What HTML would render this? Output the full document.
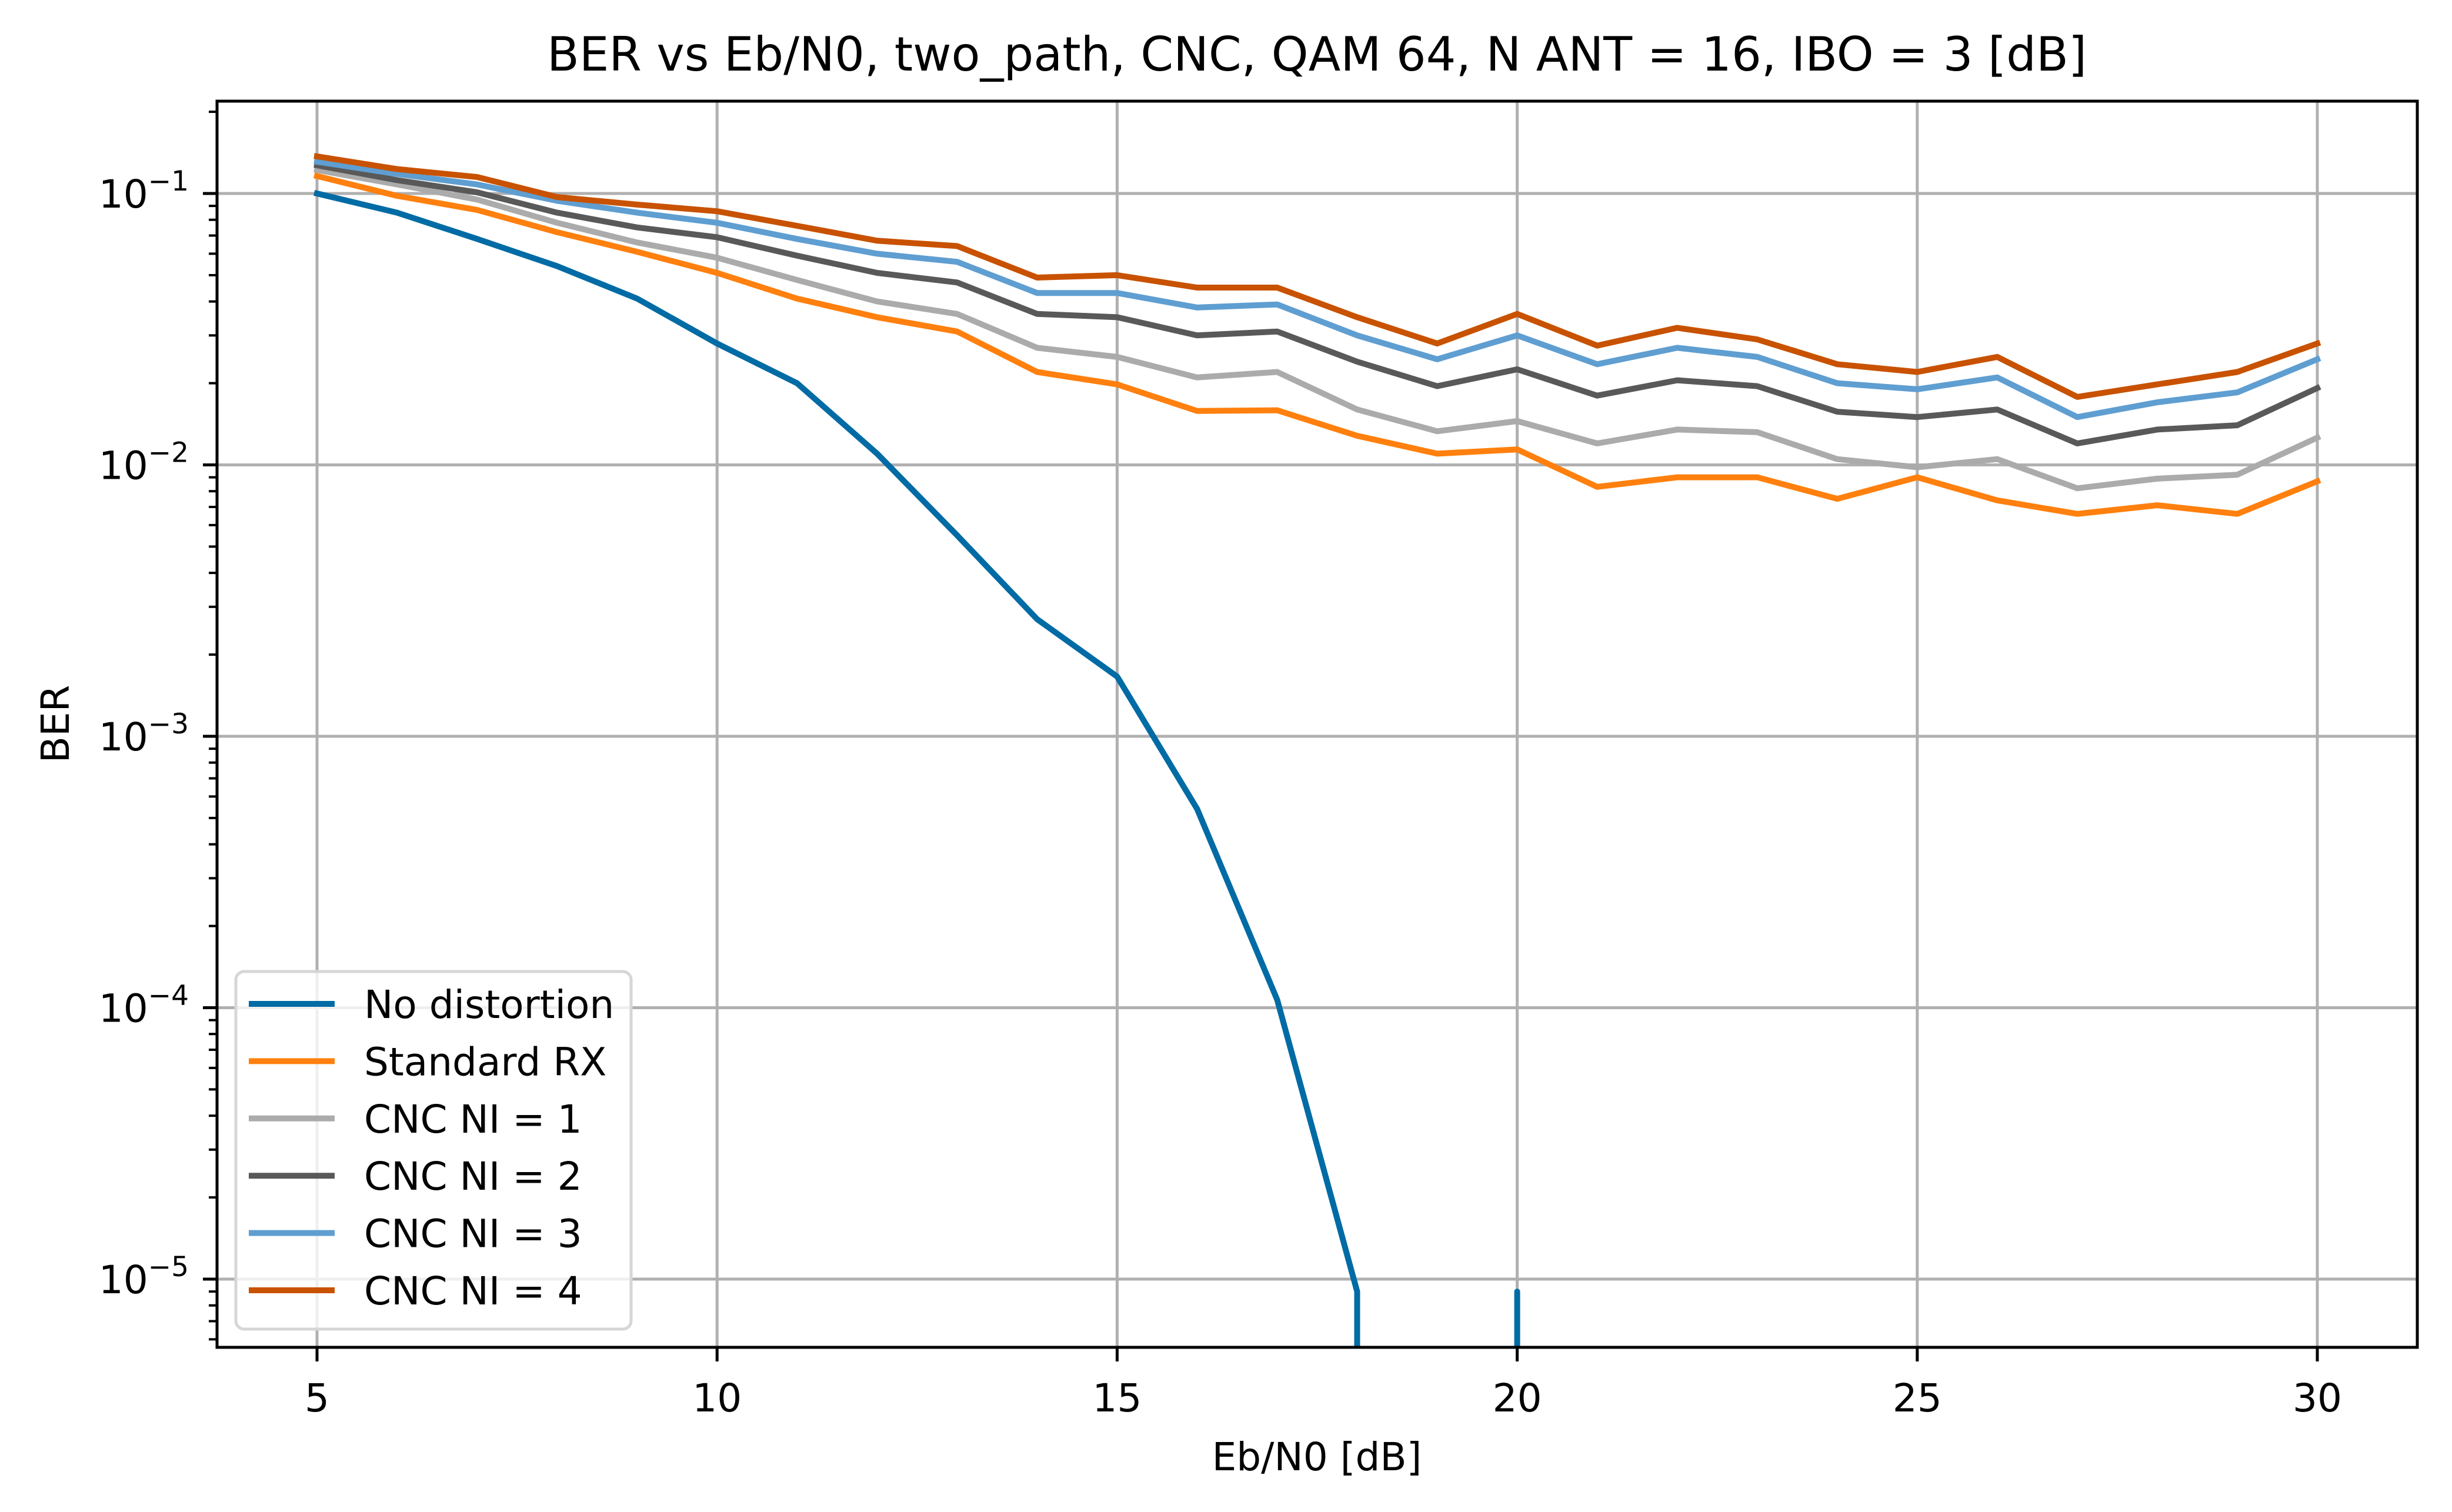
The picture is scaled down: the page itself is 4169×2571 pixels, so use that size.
<!DOCTYPE html>
<html><head><meta charset="utf-8"><style>
html,body{margin:0;padding:0;background:#fff;overflow:hidden;width:4169px;height:2571px;}
svg{display:block;overflow:hidden;font-family:"DejaVu Sans","Liberation Sans",sans-serif;}
</style></head><body>
<svg id="chart" width="4169" height="2571" viewBox="0 0 4169 2571" xmlns="http://www.w3.org/2000/svg">
<rect x="0" y="0" width="4169" height="2571" fill="#fff"/>
<defs><clipPath id="clip"><rect x="369" y="172" width="3741" height="2119"/></clipPath></defs>
<g id="grid"></g>
<g id="series" clip-path="url(#clip)"></g>
<rect x="369" y="172" width="3741" height="2119" fill="none" stroke="#000" stroke-width="5"/>
<g id="ticks"></g>
<text x="2239" y="120" font-size="80" text-anchor="middle">BER vs Eb/N0, two_path, CNC, QAM 64, N ANT = 16, IBO = 3 [dB]</text>
<text x="2239" y="2500" font-size="66" text-anchor="middle">Eb/N0 [dB]</text>
<text x="0" y="0" font-size="66" text-anchor="middle" transform="translate(117,1231) rotate(-90)">BER</text>
<g id="legend"></g>
</svg>
<script>
const xs = [5,6,7,8,9,10,11,12,13,14,15,16,17,18,19,20,21,22,23,24,25,26,27,28,29,30];
const noDist = [0.1,0.085,0.068,0.054,0.041,0.028,0.020,0.011,0.0055,0.0027,0.00166,0.00054,0.000107,0.000009,0,0.000009,0,0,0,0,0,0,0,0,0,0];
const stdRx = [0.116,0.098,0.087,0.072,0.061,0.051,0.041,0.035,0.031,0.022,0.0198,0.0158,0.0159,0.0128,0.011,0.0114,0.0083,0.009,0.009,0.0075,0.009,0.0074,0.0066,0.0071,0.0066,0.0087];
const cnc1 = [0.122,0.108,0.095,0.078,0.066,0.058,0.048,0.040,0.036,0.027,0.025,0.021,0.022,0.016,0.0133,0.0145,0.012,0.0135,0.0132,0.0105,0.0098,0.0105,0.0082,0.0089,0.0092,0.0126];
const cnc2 = [0.127,0.112,0.101,0.085,0.075,0.069,0.059,0.051,0.047,0.036,0.035,0.030,0.031,0.024,0.0195,0.0225,0.018,0.0205,0.0195,0.0157,0.015,0.016,0.012,0.0135,0.014,0.0192];
const cnc3 = [0.131,0.118,0.108,0.094,0.085,0.078,0.068,0.060,0.056,0.043,0.043,0.038,0.039,0.030,0.0245,0.030,0.0235,0.027,0.025,0.020,0.019,0.021,0.015,0.017,0.0185,0.0245];
const cnc4 = [0.137,0.123,0.115,0.097,0.091,0.086,0.076,0.067,0.064,0.049,0.050,0.045,0.045,0.035,0.028,0.036,0.0275,0.032,0.029,0.0235,0.022,0.025,0.0178,0.0198,0.022,0.028];
const seriesLabels = ["No distortion","Standard RX","CNC NI = 1","CNC NI = 2","CNC NI = 3","CNC NI = 4"];
const xTicks = [5,10,15,20,25,30];
const yTickExps = [-1,-2,-3,-4,-5];

const NS="http://www.w3.org/2000/svg";
const L=369,R=4110,T=172,B=2291;
function xPos(v){return 539+(v-5)*(3940-539)/25;}
function yPos(v){return 329-(Math.log10(v)+1)*461.5;}
function mk(tag,attrs,parent){const e=document.createElementNS(NS,tag);for(const k in attrs)e.setAttribute(k,attrs[k]);parent.appendChild(e);return e;}
const grid=document.getElementById('grid'),ticks=document.getElementById('ticks'),ser=document.getElementById('series'),leg=document.getElementById('legend');

xTicks.forEach(t=>{
  const x=xPos(t);
  const g=mk('line',{x1:x,x2:x,y1:T,y2:B,stroke:'#b0b0b0','stroke-width':5},grid);
  
  
  const tk=mk('line',{x1:x,x2:x,y1:B,y2:B+24,stroke:'#000','stroke-width':5},ticks);
  
  
  const lb=mk('text',{x:x,y:2400,'font-size':66,'text-anchor':'middle'},ticks);
  lb.textContent=String(t);
  
  
});
yTickExps.forEach(e=>{
  const y=yPos(Math.pow(10,e));
  const g=mk('line',{x1:L,x2:R,y1:y,y2:y,stroke:'#b0b0b0','stroke-width':5},grid);
  
  
  const tk=mk('line',{x1:L-24,x2:L,y1:y,y2:y,stroke:'#000','stroke-width':5},ticks);
  
  
  const lb=mk('text',{x:321,y:y+24,'font-size':66,'text-anchor':'end'},ticks);
  
  
  const t1=mk('tspan',{},lb);t1.textContent='10';
  const t2=mk('tspan',{'font-size':47,dy:-29},lb);t2.textContent='\u2212'+Math.abs(e);
});
for(let e=-6;e<=0;e++){for(let m=2;m<=9;m++){
  const y=yPos(m*Math.pow(10,e));
  if(y<T||y>B)continue;
  const tk=mk('line',{x1:L-14,x2:L,y1:y,y2:y,stroke:'#000','stroke-width':4},ticks);
  
  
}}

const allSeries=[noDist,stdRx,cnc1,cnc2,cnc3,cnc4];
const colors=['#006BA4','#FF800E','#ABABAB','#595959','#5F9ED1','#C85200'];
const names=['line-no-distortion','line-standard-rx','line-cnc-ni-1','line-cnc-ni-2','line-cnc-ni-3','line-cnc-ni-4'];
allSeries.forEach((s,i)=>{
  const pts=[];
  s.forEach((v,j)=>{
    if(v>0){pts.push([xPos(xs[j]),yPos(v)]);return;}
    if(j>0&&s[j-1]>0)pts.push([xPos(xs[j-1]),B+30]);
    if(j<s.length-1&&s[j+1]>0)pts.push([xPos(xs[j+1]),B+30]);
  });
  const p=mk('polyline',{points:pts.map(q=>q[0].toFixed(1)+','+q[1].toFixed(1)).join(' '),fill:'none',stroke:colors[i],'stroke-width':10,'stroke-linejoin':'round','stroke-linecap':'square'},ser);
  
  
});

const box=mk('rect',{x:401,y:1652,width:672,height:608,rx:14,fill:'rgba(255,255,255,0.8)',stroke:'#d6d6d6','stroke-width':5},leg);


seriesLabels.forEach((lab,i)=>{
  const y=1707+i*97.4;
  const ln=mk('line',{x1:423,x2:569,y1:y,y2:y,stroke:colors[i],'stroke-width':10},leg);
  
  
  const t=mk('text',{x:619,y:y+24,'font-size':66},leg);
  t.textContent=lab;
  
  
});
</script>
</body></html>
